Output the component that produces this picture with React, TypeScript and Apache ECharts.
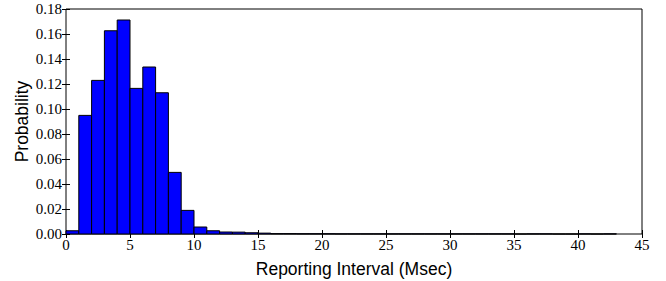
import React, { useEffect, useRef } from "react";
import * as echarts from "echarts";

// Histogram bins: each bin is 1 ms wide, starting at binStart
const binStarts = [
  0, 1, 2, 3, 4, 5, 6, 7, 8, 9, 10, 11, 12, 13, 14, 15, 16, 17, 18, 19, 20, 21,
  22, 23, 24, 25, 26, 27, 28, 29, 30, 31, 32, 33, 34, 35, 36, 37, 38, 39, 40,
  41, 42,
];
const probabilities = [
  0.0026, 0.0949, 0.1229, 0.1626, 0.1712, 0.1165, 0.1336, 0.113, 0.0493,
  0.0189, 0.0056, 0.0026, 0.0016, 0.0015, 0.001, 0.0007, 0.0003, 0.0003,
  0.0002, 0.0002, 0.0002, 0.0001, 0.0001, 0.0001, 0.0001, 0.0001, 0.0001,
  0.0001, 0.0001, 0.0001, 0.0001, 0.0001, 0.0001, 0.0001, 0.0001, 0.0, 0.0001,
  0.0001, 0.0, 0.0, 0.0001, 0.0, 0.0001,
];
const binWidth = 1;
const xTicks = [0, 5, 10, 15, 20, 25, 30, 35, 40, 45];
const yTicks = [0, 0.02, 0.04, 0.06, 0.08, 0.1, 0.12, 0.14, 0.16, 0.18];

const xLabel = "Reporting Interval (Msec)";
const yLabel = "Probability";

export default function App() {
  const ref = useRef<HTMLDivElement>(null);
  useEffect(() => {
    if (!ref.current) return;
    const chart = echarts.init(ref.current, undefined, { renderer: "svg" });
    const serif = "Liberation Serif";
    const nameFont = "17.5px Liberation Sans";
    const tickFont = {
      fontFamily: serif,
      fontSize: 15,
      color: "#000",
    };
    const commonTick = { show: true, inside: true, length: 4, lineStyle: { color: "#000", width: 1 } };
    const xMin = xTicks[0];
    const xMax = xTicks[xTicks.length - 1];
    const yMin = yTicks[0];
    const yMax = yTicks[yTicks.length - 1];
    const gl = 66, gr = 24, gt = 9, gb = 47;
    const W = 666, H = 281;
    chart.setOption({
      animation: false,
      textStyle: { fontFamily: serif },
      grid: {
        left: gl,
        right: gr,
        top: gt,
        bottom: gb,
        show: true,
        borderColor: "#000",
        borderWidth: 1,
        backgroundColor: "#fff",
      },
      graphic: [
        {
          type: "text",
          x: (gl + W - gr) / 2,
          y: H - gb + 26,
          style: { text: xLabel, font: nameFont, fill: "#000", align: "center", verticalAlign: "top" },
        },
        {
          type: "text",
          x: 22,
          y: (gt + H - gb) / 2,
          rotation: Math.PI / 2,
          style: { text: yLabel, font: nameFont, fill: "#000", align: "center", verticalAlign: "middle" },
        },
      ],
      xAxis: [
        {
          type: "value",
          min: xMin,
          max: xMax,
          interval: 5,
          position: "bottom",
          axisLine: { show: false },
          axisTick: commonTick,
          axisLabel: { ...tickFont, margin: 3 },
          splitLine: { show: false },
        },
        {
          type: "value",
          min: xMin,
          max: xMax,
          interval: 5,
          position: "top",
          axisLine: { show: false },
          axisTick: commonTick,
          axisLabel: { show: false },
          splitLine: { show: false },
        },
      ],
      yAxis: [
        {
          type: "value",
          min: yMin,
          max: yMax,
          interval: 0.02,
          position: "left",
          axisLine: { show: false },
          axisTick: commonTick,
          axisLabel: {
            ...tickFont,
            margin: 4,
            formatter: (v: number) => v.toFixed(2),
          },
          splitLine: { show: false },
        },
        {
          type: "value",
          min: yMin,
          max: yMax,
          interval: 0.02,
          position: "right",
          axisLine: { show: false },
          axisTick: commonTick,
          axisLabel: { show: false },
          splitLine: { show: false },
        },
      ],
      series: [
        {
          type: "custom",
          xAxisIndex: 0,
          yAxisIndex: 0,
          data: binStarts.map((s, i) => [s, probabilities[i]]),
          renderItem: (params: any, api: any) => {
            const x0 = api.value(0);
            const v = api.value(1);
            const p0 = api.coord([x0, 0]);
            const p1 = api.coord([x0 + binWidth, v]);
            return {
              type: "rect",
              shape: {
                x: p0[0],
                y: p1[1],
                width: p1[0] - p0[0],
                height: p0[1] - p1[1],
              },
              style: { fill: "#0000ff", stroke: "#000", lineWidth: 1 },
            };
          },
        },
      ],
    });
    return () => chart.dispose();
  }, []);
  return <div ref={ref} style={{ width: 666, height: 281, position: "absolute", left: 0, top: 0 }} />;
}
